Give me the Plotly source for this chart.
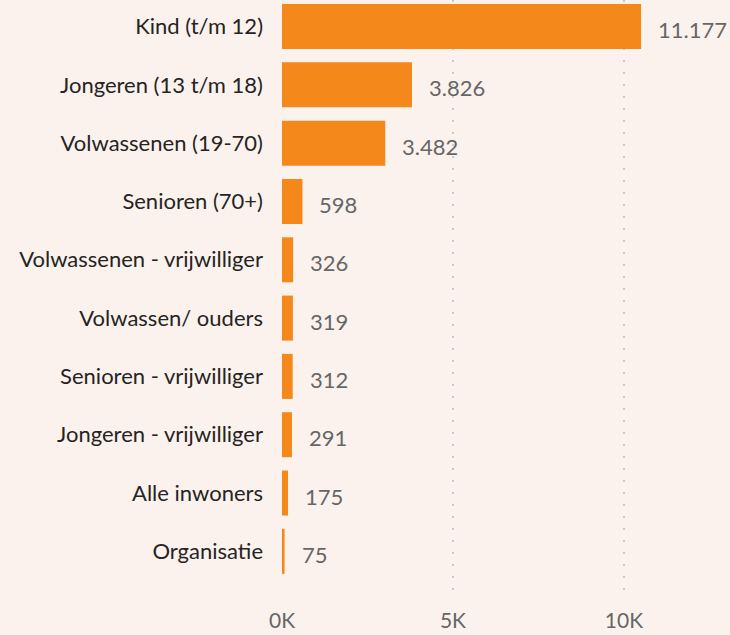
import plotly.graph_objects as go

categories = [
    "Kind (t/m 12)",
    "Jongeren (13 t/m 18)",
    "Volwassenen (19-70)",
    "Senioren (70+)",
    "Volwassenen - vrijwilliger",
    "Volwassen/ ouders",
    "Senioren - vrijwilliger",
    "Jongeren - vrijwilliger",
    "Alle inwoners",
    "Organisatie",
]
# bar lengths as drawn in the reference
bar_values = [10500, 3800, 3020, 598, 326, 319, 312, 291, 175, 75]
# data labels as printed in the reference
value_labels = ["11.177", "3.826", "3.482", "598", "326", "319", "312", "291", "175", "75"]
tick_vals = [0, 5000, 10000]
tick_text = ["0K", "5K", "10K"]

BG = "#FCF2ED"
ORANGE = "#F4881A"
FONT = "Lato, 'Open Sans', sans-serif"

fig = go.Figure()
fig.add_trace(go.Bar(
    y=categories,
    x=bar_values,
    orientation="h",
    marker=dict(color=ORANGE, line=dict(width=0)),
    hoverinfo="skip",
))

for cat, val, lab in zip(categories, bar_values, value_labels):
    fig.add_annotation(
        x=val, y=cat, text=lab, showarrow=False,
        xanchor="left", yanchor="middle", xshift=15, yshift=-3,
        font=dict(family=FONT, size=22, color="#666666"),
    )

fig.update_layout(
    width=730, height=635,
    margin=dict(l=282, r=0, t=0, b=37),
    paper_bgcolor=BG, plot_bgcolor=BG,
    bargap=0.228,
    showlegend=False,
    xaxis=dict(
        range=[0, 13100],
        tickvals=tick_vals, ticktext=tick_text,
        showgrid=True, gridcolor="#CDCBC9", gridwidth=1.6, griddash="2px,10px",
        zeroline=False, showline=False,
        tickfont=dict(family=FONT, size=21, color="#666666"),
        ticklabelstandoff=8,
        fixedrange=True,
    ),
    yaxis=dict(
        range=[9.80, -0.455],
        showgrid=False, zeroline=False, showline=False,
        tickfont=dict(family=FONT, size=22, color="#252423"),
        ticklabelstandoff=18,
        fixedrange=True,
    ),
)

fig.write_html(
    "out.html",
    config={"displayModeBar": False},
    post_script="document.body.style.margin='0';document.body.style.background='%s';" % BG,
)
